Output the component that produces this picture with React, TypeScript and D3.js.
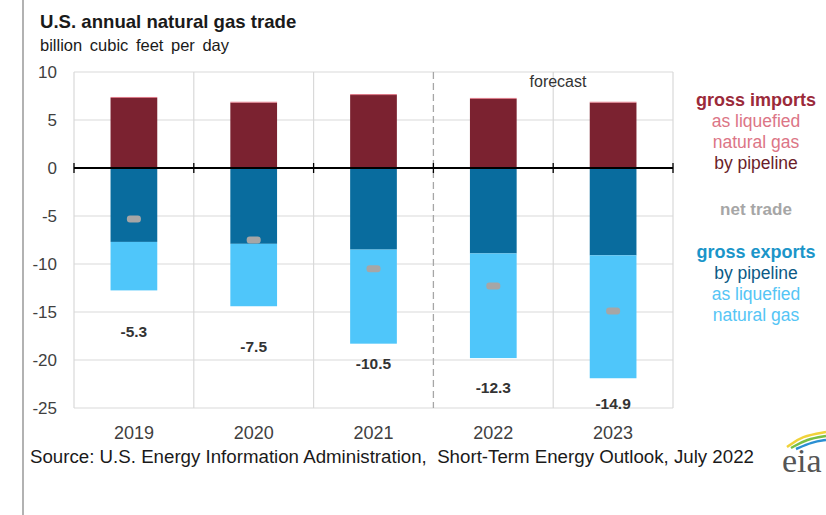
import React from "react";
import * as d3 from "d3";

const years = ["2019", "2020", "2021", "2022", "2023"];
const importsPipeline = [7.3, 6.8, 7.6, 7.2, 6.8];
const importsLng = [0.1, 0.1, 0.1, 0.1, 0.1];
const exportsPipeline = [-7.7, -7.9, -8.5, -8.9, -9.1];
const exportsLng = [-5.05, -6.5, -9.8, -10.9, -12.8];
const netTrade = [-5.3, -7.5, -10.5, -12.3, -14.9];
const yTicks = [10, 5, 0, -5, -10, -15, -20, -25];
const labelGap = [41, 40, 20, 29, 25];

const FONT = "'Liberation Sans', Arial, sans-serif";

export default function App() {
  const W = 826, H = 515;
  const left = 74, right = 673, top = 72, bottom = 408;
  const x = d3.scaleBand<string>().domain(years).range([left, right]).paddingInner(0.61).paddingOuter(0.305);
  const y = d3.scaleLinear().domain([-25, 10]).range([bottom, top]);
  const step = x.step();
  const bw = x.bandwidth();
  const boundaries = d3.range(years.length + 1).map((i) => left + i * step);
  const legendX = 756;

  const arc = d3.line().curve(d3.curveBasis);

  return (
    <svg width={W} height={H} style={{ position: "absolute", left: 0, top: 0, background: "#fff" }}>
      <rect x={0} y={0} width={W} height={H} fill="#fff" />
      <line x1={23} x2={23} y1={0} y2={H} stroke="#7f7f7f" strokeWidth={1.2} />
      <text x={40} y={28} fontFamily={FONT} fontSize={18.6} fontWeight="bold" fill="#1a1a1a">U.S. annual natural gas trade</text>
      <text x={40} y={51} fontFamily={FONT} fontSize={16.5} fill="#1a1a1a" wordSpacing={3}>billion cubic feet per day</text>

      {/* grid */}
      {yTicks.map((t) => (
        <line key={"g" + t} x1={left} x2={right} y1={y(t)} y2={y(t)} stroke="#d9d9d9" strokeWidth={1.2} />
      ))}
      {boundaries.map((b, i) =>
        i === 3 ? null : (
          <line key={"v" + i} x1={b} x2={b} y1={top} y2={bottom} stroke="#d9d9d9" strokeWidth={1.2} />
        )
      )}
      <line x1={boundaries[3]} x2={boundaries[3]} y1={top} y2={bottom} stroke="#a6a6a6" strokeWidth={1.3} strokeDasharray="7,4" />

      {yTicks.map((t) => (
        <text key={"t" + t} x={57} y={y(t) + 6} textAnchor="end" fontFamily={FONT} fontSize={17} fill="#404040">{t}</text>
      ))}

      {/* bars */}
      {years.map((yr, i) => {
        const x0 = x(yr)!;
        const ip = importsPipeline[i], il = importsLng[i];
        const ep = exportsPipeline[i], el = exportsLng[i];
        return (
          <g key={yr}>
            <rect x={x0} y={y(ip)} width={bw} height={y(0) - y(ip)} fill="#7b2230" />
            <rect x={x0} y={y(ip + il)} width={bw} height={y(ip) - y(ip + il)} fill="#d9707f" />
            <rect x={x0} y={y(0)} width={bw} height={y(ep) - y(0)} fill="#096c9e" />
            <rect x={x0} y={y(ep)} width={bw} height={y(ep + el) - y(ep)} fill="#4fc6fa" />
          </g>
        );
      })}

      {/* zero line */}
      <line x1={left} x2={right} y1={y(0)} y2={y(0)} stroke="#000" strokeWidth={2} />
      {boundaries.map((b, i) => (
        <line key={"zt" + i} x1={b} x2={b} y1={y(0) - 5} y2={y(0) + 5} stroke="#000" strokeWidth={1.3} />
      ))}

      {/* net trade markers and labels */}
      {years.map((yr, i) => {
        const cx = x(yr)! + bw / 2;
        const bot = y(exportsPipeline[i] + exportsLng[i]);
        return (
          <g key={"n" + yr}>
            <rect x={cx - 7} y={y(netTrade[i]) - 3.5} width={14} height={7} rx={3} fill="#a6a6a6" />
            <text x={cx} y={bot + labelGap[i] + 5.5} textAnchor="middle" fontFamily={FONT} fontSize={15.5} fontWeight="bold" fill="#333">{netTrade[i]}</text>
          </g>
        );
      })}

      <text x={558} y={87} textAnchor="middle" fontFamily={FONT} fontSize={16} fill="#333">forecast</text>

      {years.map((yr) => (
        <text key={"x" + yr} x={x(yr)! + bw / 2} y={439} textAnchor="middle" fontFamily={FONT} fontSize={18} fill="#404040">{yr}</text>
      ))}

      <text x={30} y={463} fontFamily={FONT} fontSize={18.7} fill="#1a1a1a" xmlSpace="preserve">Source: U.S. Energy Information Administration,  Short-Term Energy Outlook, July 2022</text>

      {/* legend */}
      <g fontFamily={FONT} textAnchor="middle">
        <text x={legendX} y={106} fontSize={18} fontWeight="bold" fill="#9b2a3a">gross imports</text>
        <text x={legendX} y={127} fontSize={17.5} fill="#dc7586">as liquefied</text>
        <text x={legendX} y={148} fontSize={17.5} fill="#dc7586">natural gas</text>
        <text x={legendX} y={169} fontSize={17.5} fill="#6a1d2a">by pipeline</text>
        <text x={legendX} y={215} fontSize={17} fontWeight="bold" fill="#a6a6a6">net trade</text>
        <text x={legendX} y={258} fontSize={18} fontWeight="bold" fill="#1b95c9">gross exports</text>
        <text x={legendX} y={279} fontSize={17.5} fill="#0b5a86">by pipeline</text>
        <text x={legendX} y={300} fontSize={17.5} fill="#55c5f5">as liquefied</text>
        <text x={legendX} y={321} fontSize={17.5} fill="#55c5f5">natural gas</text>
      </g>

      {/* eia logo */}
      <g>
        <path d={arc([[787, 447], [802, 436], [826, 432]])!} fill="none" stroke="#f0d23a" strokeWidth={2.5} />
        <path d={arc([[791, 448], [807, 439], [826, 436]])!} fill="none" stroke="#79bf43" strokeWidth={2.5} />
        <path d={arc([[796, 449], [812, 442], [826, 440]])!} fill="none" stroke="#2b8fd2" strokeWidth={2.5} />
        <text x={782} y={472} fontFamily="'Liberation Serif', 'DejaVu Serif', serif" fontSize={34} fill="#555">eia</text>
      </g>
    </svg>
  );
}
